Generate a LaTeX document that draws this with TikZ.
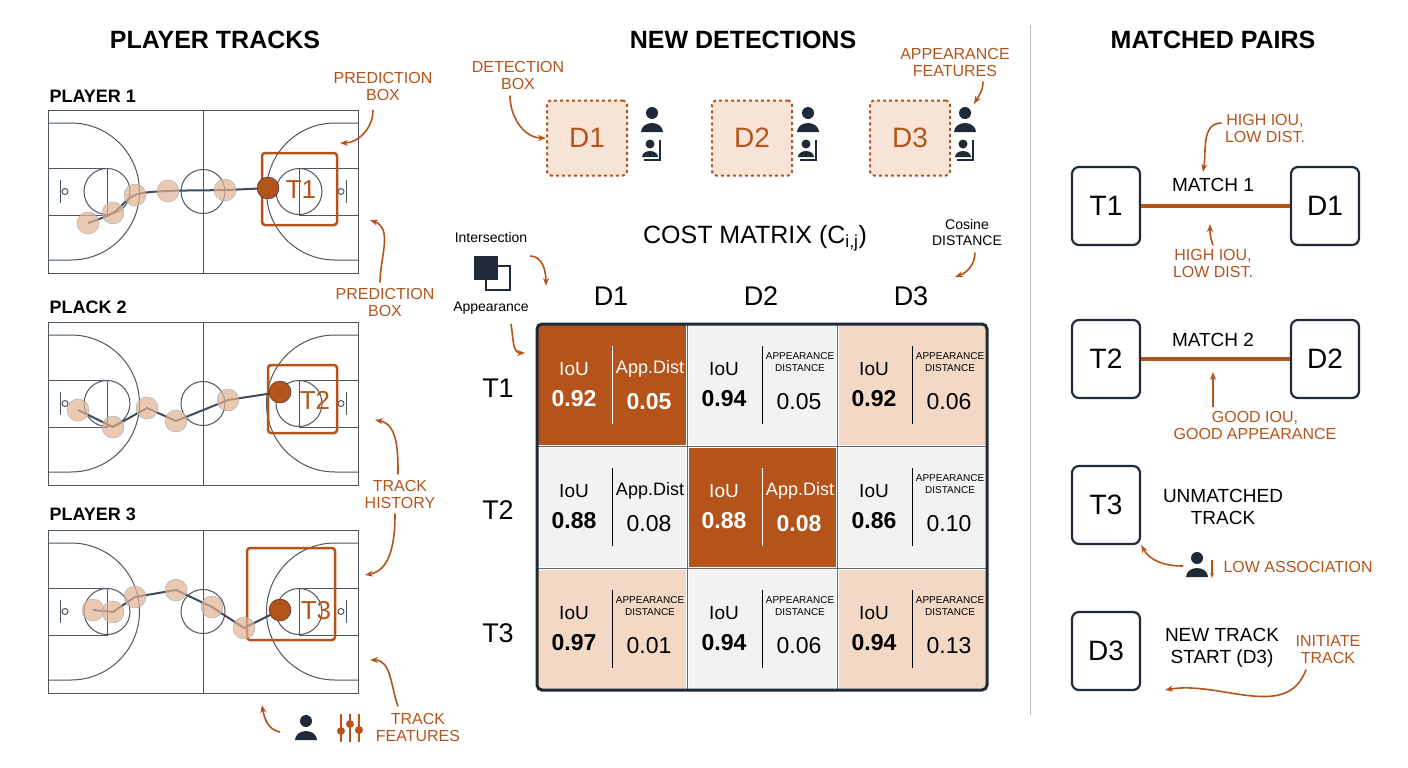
\documentclass[tikz,border=0pt]{standalone}
\usepackage{fontspec}
\setmainfont{Liberation Sans}
\usetikzlibrary{positioning,arrows.meta}
\definecolor{rust}{HTML}{B5541A}
\definecolor{ink}{HTML}{1F2A38}
\definecolor{peach}{HTML}{F4D8C6}
\definecolor{pale}{HTML}{F2F2F2}
\definecolor{dot}{HTML}{E2B394}
\tikzset{
  title/.style={font=\fontsize{25}{28}\selectfont\bfseries, text=black},
  plabel/.style={font=\fontsize{18}{20}\selectfont\bfseries, anchor=west},
  note/.style={font=\fontsize{16}{17}\selectfont, text=rust, align=center},
  bnote/.style={font=\fontsize{14}{16}\selectfont, align=center},
  callout/.style={-{Stealth[length=8pt]}, rust, line width=1.6pt},
  courtline/.style={draw=ink!80, line width=1pt},
  trk/.style={ink!85, line width=2pt},
  past/.style={circle, fill=dot, fill opacity=0.7, draw=ink!40, minimum size=22pt, inner sep=0pt},
  now/.style={circle, fill=rust, draw=ink, minimum size=22pt, inner sep=0pt},
  predbox/.style={draw=rust, line width=2.5pt, rounded corners=3pt},
  detbox/.style={draw=rust, dashed, line width=2pt, fill=peach!70, rounded corners=4pt, minimum width=80pt, minimum height=75pt, font=\fontsize{28}{28}\selectfont, text=rust},
  hdr/.style={font=\fontsize{27}{27}\selectfont},
  pairbox/.style={draw=ink, line width=2.2pt, rounded corners=7pt, fill=white, minimum width=68pt, minimum height=78pt, font=\fontsize{28}{28}\selectfont},
  mtext/.style={font=\fontsize{19}{22}\selectfont, align=center},
  link/.style={rust, line width=4pt},
  labbig/.style={font=\fontsize{18}{18}\selectfont, yshift=-3pt},
  labsmall/.style={font=\fontsize{10}{12}\selectfont, align=center, yshift=4pt},
  valbold/.style={font=\fontsize{23}{23}\selectfont\bfseries},
  valplain/.style={font=\fontsize{23}{23}\selectfont},
}
% basketball court, origin at top-left corner
\newcommand\court[2]{
  \begin{scope}[shift={(#1,#2)}]
    \draw[courtline, fill=white] (0,0) rectangle (310,163);
    \draw[courtline] (155,0) -- (155,163);
    \draw[courtline] (155,81.5) circle (22pt);
    \draw[courtline] (0,13) -- (23,13) arc (90:-90:68.5pt) -- (0,150);
    \draw[courtline] (0,58) rectangle (59,105);
    \draw[courtline] (59,81.5) circle (23pt);
    \draw[courtline] (12,70) -- (12,93);
    \draw[courtline] (17,81.5) circle (3pt);
    \draw[courtline] (310,13) -- (287,13) arc (90:270:68.5pt) -- (310,150);
    \draw[courtline] (310,58) rectangle (251,105);
    \draw[courtline] (251,81.5) circle (23pt);
    \draw[courtline] (298,70) -- (298,93);
    \draw[courtline] (293,81.5) circle (3pt);
  \end{scope}
}
% person glyph
\newcommand\person[3]{
  \fill[#3] (#1,#2-7) circle (6pt);
  \fill[#3] (#1-11,#2+12) arc (180:0:11pt and 9pt) -- cycle;
}
\newcommand\badge[2]{
  \fill[ink] (#1-2,#2-6) circle (4.5pt);
  \fill[ink] (#1-10,#2+7) arc (180:0:8pt and 6pt) -- cycle;
  \draw[ink, line width=2pt] (#1+8,#2-10) -- (#1+8,#2+10) -- (#1-8,#2+10);
}
\newcommand\cell[9]{% x, y, fill, iou, right label, value, text colour, label style, value style
  \begin{scope}[shift={(#1,#2)}]
    \fill[#3] (0,0) rectangle (150,122);
    \draw[#7, line width=1pt] (75,22) -- (75,100);
    \node[font=\fontsize{19}{19}\selectfont, text=#7] at (37,45) {IoU};
    \node[valbold, text=#7] at (37,75) {#4};
    \node[#8, text=#7] at (113,42) {#5};
    \node[#9, text=#7] at (112,78) {#6};
  \end{scope}
}
\begin{document}
\begin{tikzpicture}[x=1pt, y=-1pt]
  \useasboundingbox[fill=white] (0,0) rectangle (1408,768);

  % titles
  \node[title] (tTracks) at (215,40) {PLAYER TRACKS};
  \node[title] (tDet) at (743,40) {NEW DETECTIONS};
  \node[title] (tPairs) at (1213,40) {MATCHED PAIRS};
  \draw[gray!50, line width=1pt] (1030,25) -- (1030,715);

  % ---- courts
  \node[plabel] (p1) at (46,96) {PLAYER 1};
  \node[plabel] (p2) at (46,307) {PLACK 2};
  \node[plabel] (p3) at (46,514) {PLAYER 3};
  \court{48}{110}
  \court{48}{322}
  \court{48}{530}

  \node[predbox, minimum width=75pt, minimum height=72pt] (box1) at (299.5,189) {};
  \node[predbox, minimum width=69pt, minimum height=68pt] (box2) at (302.5,399) {};
  \node[predbox, minimum width=88pt, minimum height=92pt] (box3) at (291,594) {};

  \draw[trk] plot[smooth] coordinates {(88,223) (113,213) (135,195) (168,191) (225,190) (268,188)};
  \foreach \px/\py in {88/223, 113/213, 135/195, 168/191, 225/190}
    \node[past] at (\px,\py) {};
  \node[now] (n1) at (268,188) {};
  \node[font=\fontsize{26}{26}\selectfont, text=rust] at (301,190) {T1};

  \draw[trk] (78,410) -- (113,427) -- (147,408) -- (176,421) -- (228,400) -- (280,392);
  \foreach \px/\py in {78/410, 113/427, 147/408, 176/421, 228/400}
    \node[past] at (\px,\py) {};
  \node[now] (n2) at (280,392) {};
  \node[font=\fontsize{26}{26}\selectfont, text=rust] at (315,400) {T2};

  \draw[trk] (93,610) -- (113,612) -- (135,597) -- (176,590) -- (212,607) -- (244,628) -- (280,610);
  \foreach \px/\py in {93/610, 113/612, 135/597, 176/590, 212/607, 244/628}
    \node[past] at (\px,\py) {};
  \node[now] (n3) at (280,610) {};
  \node[font=\fontsize{26}{26}\selectfont, text=rust] at (316,611) {T3};

  \node[note] (pb1) at (383,86) {PREDICTION\\BOX};
  \node[note] (pb2) at (385,302) {PREDICTION\\BOX};
  \node[note] (th) at (400,494) {TRACK\\HISTORY};
  \node[note] (tf) at (418,727) {TRACK\\FEATURES};
  \coordinate (a1) at (340,143);
  \coordinate (a2) at (370,220);
  \coordinate (a3) at (375,420);
  \coordinate (a4) at (365,575);
  \coordinate (a5) at (370,660);
  \coordinate (a6) at (262,705);
  \draw[callout] (373,110) to[out=-90, in=0] (a1);
  \draw[callout] (pb2.north) ++(-5,-2) to[out=90, in=-20] (a2);
  \draw[callout] (th.north) ++(-2,-2) to[out=90, in=-10] (a3);
  \draw[callout] (th.south) ++(-5,2) to[out=-90, in=10] (a4);
  \draw[callout] (tf.north) ++(-20,-3) to[out=110, in=0] (a5);
  \draw[callout] (280,732) to[out=170, in=-80] (a6);
  \person{306}{728}{ink}
  \foreach \sx/\sy in {-9/3, 0/-4, 9/2}{
    \draw[rust, line width=2pt] (350+\sx,714) -- (350+\sx,742);
    \fill[rust] (350+\sx,728+\sy) circle (4pt);
  }

  % ---- detections
  \node[detbox] (d1) at (587,138) {D1};
  \node[detbox] (d2) at (752,138) {D2};
  \node[detbox] (d3) at (910,138) {D3};
  \foreach \ix in {652,808,965}{
    \person{\ix}{120}{ink}
    \badge{\ix}{150}
  }
  \node[note] (db) at (518,75) {DETECTION\\BOX};
  \node[note] (af) at (955,62) {APPEARANCE\\FEATURES};
  \draw[callout] (db.south) ++(-8,3) to[out=-90, in=180] (d1.west);
  \coordinate (f3) at (974,104);
  \draw[callout] (af.south) ++(28,2) to[out=-90, in=60] (f3);

  % ---- cost matrix
  \node[font=\fontsize{25}{25}\selectfont] (cm) at (755,238) {COST MATRIX (C\textsubscript{i,j})};
  \node[bnote] (cos) at (967,232) {Cosine\\DISTANCE};
  \node[bnote] (inter) at (491,237) {Intersection};
  \node[bnote] (appr) at (491,308) {Appearance};
  \fill[ink] (474,256) rectangle (498,280);
  \draw[ink, line width=1.2pt] (498,266) -- (510,266) -- (510,290) -- (486,290) -- (486,280);
  \coordinate (c1) at (546,286);
  \coordinate (c2) at (525,353);
  \coordinate (c3) at (955,277);
  \draw[callout] (530,256) to[out=0, in=90] (c1);
  \draw[callout] (appr.south) ++(20,6) to[out=-80, in=180] (c2);
  \draw[callout] (cos.south) ++(8,4) to[out=-90, in=20] (c3);

  \node[hdr] (h1) at (611,296) {D1};
  \node[hdr] (h2) at (761,296) {D2};
  \node[hdr] (h3) at (911,296) {D3};
  \node[hdr] (r1) at (498,388) {T1};
  \node[hdr] (r2) at (498,510) {T2};
  \node[hdr] (r3) at (498,633) {T3};

  \cell{537}{324}{rust}{0.92}{App.Dist}{0.05}{white}{labbig}{valbold}
  \cell{687}{324}{pale}{0.94}{APPEARANCE\\DISTANCE}{0.05}{black}{labsmall}{valplain}
  \cell{837}{324}{peach}{0.92}{APPEARANCE\\DISTANCE}{0.06}{black}{labsmall}{valplain}
  \cell{537}{446}{pale}{0.88}{App.Dist}{0.08}{black}{labbig}{valplain}
  \cell{687}{446}{rust}{0.88}{App.Dist}{0.08}{white}{labbig}{valbold}
  \cell{837}{446}{pale}{0.86}{APPEARANCE\\DISTANCE}{0.10}{black}{labsmall}{valplain}
  \cell{537}{568}{peach}{0.97}{APPEARANCE\\DISTANCE}{0.01}{black}{labsmall}{valplain}
  \cell{687}{568}{pale}{0.94}{APPEARANCE\\DISTANCE}{0.06}{black}{labsmall}{valplain}
  \cell{837}{568}{peach}{0.94}{APPEARANCE\\DISTANCE}{0.13}{black}{labsmall}{valplain}
  \draw[white, line width=3pt] (687,324) -- (687,690) (837,324) -- (837,690)
    (537,446) -- (987,446) (537,568) -- (987,568);
  \draw[ink!70, line width=1pt] (687,324) -- (687,690) (837,324) -- (837,690)
    (537,446) -- (987,446) (537,568) -- (987,568);
  \draw[ink, line width=3pt, rounded corners=5pt] (537,324) rectangle (987,690);

  % ---- matched pairs
  \node[pairbox] (m1t) at (1106,206) {T1};
  \node[pairbox] (m1d) at (1325,206) {D1};
  \draw[link] (m1t) -- (m1d);
  \node[mtext] (mt1) at (1213,185) {MATCH 1};
  \node[note] (hi1) at (1265,128) {HIGH IOU,\\LOW DIST.};
  \node[note] (hi2) at (1213,263) {HIGH IOU,\\LOW DIST.};
  \coordinate (e1) at (1203,172);
  \coordinate (e2) at (1210,224);
  \draw[callout] (hi1.west) ++(0,-5) to[out=180, in=80] (e1);
  \draw[callout] (hi2.north) to[out=110, in=-90] (e2);

  \node[pairbox] (m2t) at (1106,359) {T2};
  \node[pairbox] (m2d) at (1325,359) {D2};
  \draw[link] (m2t) -- (m2d);
  \node[mtext] (mt2) at (1213,340) {MATCH 2};
  \node[note] (gi) at (1255,425) {GOOD IOU,\\GOOD APPEARANCE};
  \coordinate (e3) at (1213,372);
  \draw[callout] (gi.north) ++(-42,0) to[out=90, in=-90] (e3);

  \node[pairbox] (m3t) at (1106,505) {T3};
  \node[mtext] (un) at (1223,507) {UNMATCHED\\TRACK};
  \person{1197}{565}{ink}
  \draw[-{Stealth[length=5pt]}, rust, line width=1.5pt] (1212,560) -- (1212,578);
  \node[note, anchor=west] (low) at (1220,567) {LOW ASSOCIATION};
  \draw[callout] (1183,566) to[out=180, in=-60] (m3t.south east);

  \node[pairbox] (m4t) at (1106,651) {D3};
  \node[mtext] (nt) at (1222,648) {NEW TRACK\\START (D3)};
  \node[note] (it) at (1328,650) {INITIATE\\TRACK};
  \coordinate (e4) at (1165,690);
  \draw[callout] (it.south) ++(-22,2) to[out=-110, in=10] (e4);
\end{tikzpicture}
\end{document}
